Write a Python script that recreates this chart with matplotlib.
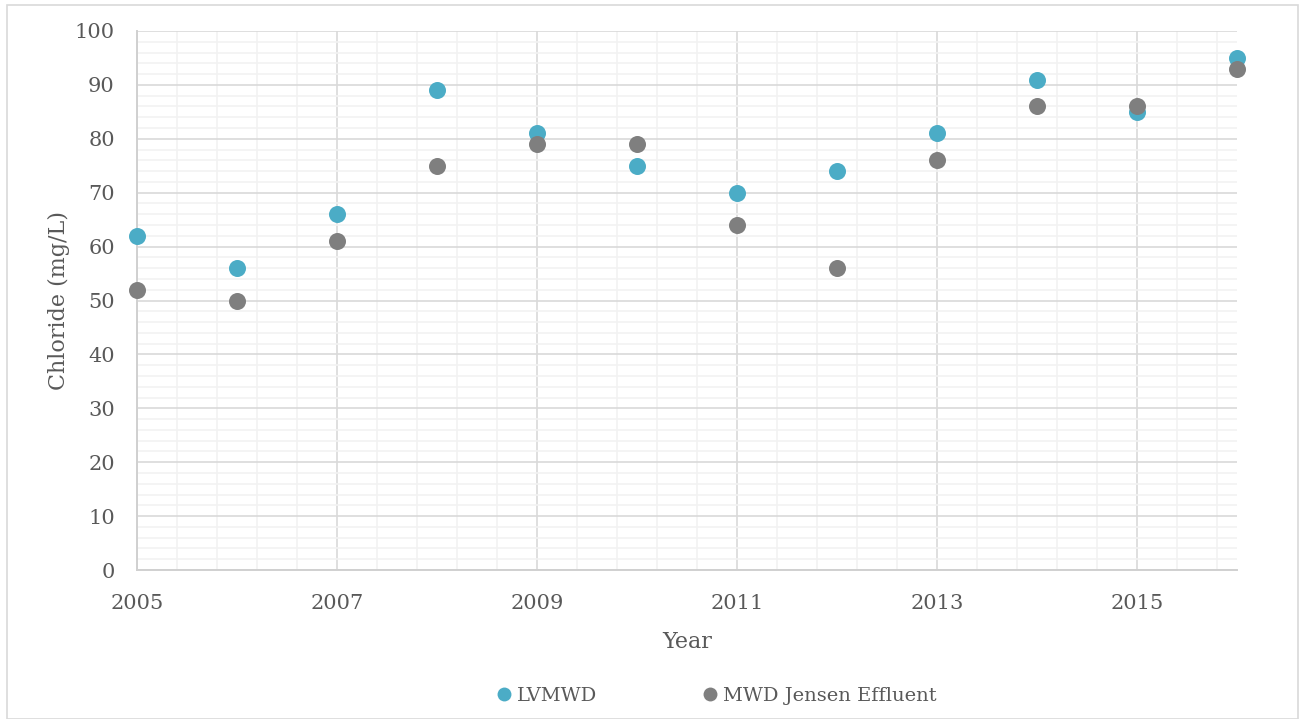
import numpy as np
import matplotlib
matplotlib.use("Agg")
import matplotlib.pyplot as plt
from matplotlib.ticker import FixedLocator, MultipleLocator
from matplotlib.patches import Rectangle
from matplotlib.lines import Line2D

years = [2005, 2006, 2007, 2008, 2009, 2010, 2011, 2012, 2013, 2014, 2015, 2016]
lvmwd = [62, 56, 66, 89, 81, 75, 70, 74, 81, 91, 85, 95]
mwd_jensen = [52, 50, 61, 75, 79, 79, 64, 56, 76, 86, 86, 93]
series_names = ["LVMWD", "MWD Jensen Effluent"]
year_ticks = [2005, 2007, 2009, 2011, 2013, 2015]

blue = "#4BACC6"
gray = "#7F7F7F"
text_col = "#595959"

plt.rcParams["font.family"] = ["DejaVu Serif"]

fig = plt.figure(figsize=(13.02, 7.19), dpi=100)
ax = fig.add_axes([137 / 1302, 1 - 570 / 719, 1100 / 1302, 539 / 719])

# outer chart border
fig.patches.append(Rectangle((7 / 1302, 0), 1291 / 1302, 1 - 5 / 719,
                             transform=fig.transFigure, fill=False,
                             edgecolor="#D9D9D9", linewidth=1.2))

ax.set_xlim(2005, 2016)
ax.set_ylim(0, 100)
ax.xaxis.set_major_locator(FixedLocator(year_ticks))
ax.xaxis.set_minor_locator(FixedLocator(np.arange(2005, 2016.01, 0.4)))
ax.yaxis.set_major_locator(MultipleLocator(10))
ax.yaxis.set_minor_locator(MultipleLocator(2))

ax.grid(which="minor", color="#F2F2F2", linewidth=1.2)
ax.grid(which="major", color="#D9D9D9", linewidth=1.2)
ax.set_axisbelow(True)

for s in ["top", "right"]:
    ax.spines[s].set_visible(False)
for s in ["left", "bottom"]:
    ax.spines[s].set_color("#D0D0D0")
    ax.spines[s].set_linewidth(1.4)

ax.tick_params(which="both", length=0)
ax.tick_params(axis="x", pad=17, labelsize=15, labelcolor=text_col)
ax.tick_params(axis="y", pad=16, labelsize=15, labelcolor=text_col)

ax.scatter(years, lvmwd, s=150, color=blue, zorder=3, clip_on=False,
           linewidths=0, label=series_names[0])
ax.scatter(years, mwd_jensen, s=150, color=gray, zorder=4, clip_on=False,
           linewidths=0, label=series_names[1])

ax.set_xlabel("Year", fontsize=16, color=text_col, labelpad=13)
ax.set_ylabel("Chloride (mg/L)", fontsize=16, color=text_col, labelpad=3)

handles = [Line2D([], [], marker="o", linestyle="none", markersize=10,
                  markerfacecolor=c, markeredgewidth=0) for c in (blue, gray)]
fig.legend(handles, series_names, loc="center", bbox_to_anchor=(0.5507, 1 - 696 / 719),
           ncol=2, frameon=False, fontsize=14, handlelength=0.6, handletextpad=0.37,
           columnspacing=5.5, labelcolor=text_col)

fig.savefig("out.png", dpi=100)
